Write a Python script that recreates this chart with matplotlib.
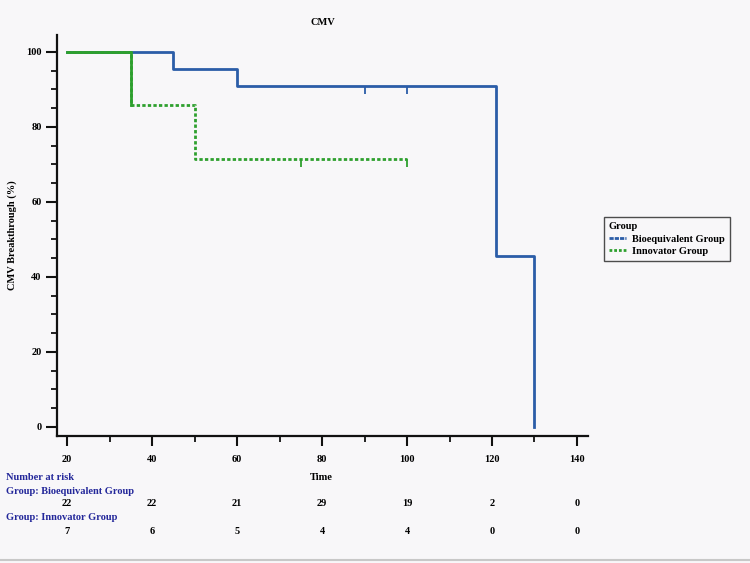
import numpy as np
import matplotlib
matplotlib.use("Agg")
import matplotlib.pyplot as plt
from matplotlib.lines import Line2D

# Kaplan-Meier style step data (time, % without CMV breakthrough)
bio_time = [20, 45, 60, 121, 130]
bio_surv = [100, 95.5, 91.0, 45.5, 0]
bio_cens_time = [90, 100]
bio_cens_surv = [91.0, 91.0]

inn_time = [20, 35, 50, 100]
inn_surv = [100, 85.7, 71.4, 71.4]
inn_cens_time = [75, 100]
inn_cens_surv = [71.4, 71.4]

risk_times = [20, 40, 60, 80, 100, 120, 140]
risk_bio = [22, 22, 21, 29, 19, 2, 0]
risk_inn = [7, 6, 5, 4, 4, 0, 0]

BLUE = "#2b5da8"
GREEN = "#2ea02e"
NAVY = "#23279a"
BG = "#f8f7f9"

plt.rcParams["font.family"] = ["Liberation Serif", "DejaVu Serif"]
plt.rcParams["font.weight"] = "bold"
plt.rcParams["font.size"] = 7.5

fig = plt.figure(figsize=(7.5, 5.63), dpi=100, facecolor=BG)
ax = fig.add_axes([0.076, 0.2256, 0.708, 0.7124], facecolor=BG)

# curves
ax.step(bio_time, bio_surv, where="post", color=BLUE, lw=2.0, zorder=3)
ax.plot(bio_cens_time, bio_cens_surv, ls="none", marker=3, ms=6, mew=1.3,
        color=BLUE, zorder=3)
ax.step(inn_time, inn_surv, where="post", color=GREEN, lw=2.0,
        ls=(0, (1.2, 0.8)), zorder=4)
ax.step(inn_time[:2], inn_surv[:2], where="post", color=GREEN, lw=2.0, zorder=5)
ax.plot(inn_cens_time, inn_cens_surv, ls="none", marker=3, ms=6, mew=1.3,
        color=GREEN, zorder=4)

ax.set_xlim(17.6, 142.6)
ax.set_ylim(-2.4, 104.5)

for s in ["top", "right"]:
    ax.spines[s].set_visible(False)
for s in ["left", "bottom"]:
    ax.spines[s].set_linewidth(1.6)
    ax.spines[s].set_color("#111111")

ax.set_xticks(risk_times)
ax.set_xticks(np.arange(30, 140, 20), minor=True)
ax.set_yticks([0, 20, 40, 60, 80, 100])
ax.set_yticks([y for y in range(5, 100, 5) if y % 20], minor=True)
ax.tick_params(axis="both", which="major", width=1.5, color="#111111",
               labelsize=7.5)
ax.tick_params(axis="x", which="major", length=7.5, pad=6.5)
ax.tick_params(axis="y", which="major", length=8, pad=3)
ax.tick_params(axis="both", which="minor", length=4.5, width=1.3, color="#111111")

ax.set_title("CMV", fontsize=7.5, fontweight="bold", pad=7)
ax.set_ylabel("CMV Breakthrough (%)", fontsize=7.5, fontweight="bold")
ax.yaxis.set_label_coords(-0.076, 0.5)

# legend
handles = [Line2D([], [], color=BLUE, lw=2.0, ls=(0, (1.5, 0.4))),
           Line2D([], [], color=GREEN, lw=2.0, ls=(0, (1.0, 0.7)))]
leg = fig.legend(handles, ["Bioequivalent Group", "Innovator Group"],
                 title="Group", loc="upper left", bbox_to_anchor=(0.798, 0.624),
                 frameon=True, fancybox=False, edgecolor="#222222",
                 facecolor=BG, handlelength=1.6, handletextpad=0.6,
                 borderpad=0.5, labelspacing=0.3, fontsize=7.5,
                 title_fontsize=7.5, alignment="left")
leg.get_frame().set_linewidth(1.0)
leg.get_title().set_fontweight("bold")

def fy(py):
    return 1 - py / 563

# time label
fig.text(0.429, fy(477), "Time", ha="center", va="center", fontsize=7.5)

# number at risk table
fig.text(0.008, fy(477), "Number at risk", color=NAVY, va="center", fontsize=7.5)
fig.text(0.008, fy(491), "Group: Bioequivalent Group", color=NAVY, va="center",
         fontsize=7.5)
fig.text(0.008, fy(518), "Group: Innovator Group", color=NAVY, va="center",
         fontsize=7.5)
trans = matplotlib.transforms.blended_transform_factory(ax.transData, fig.transFigure)
for t, nb, ni in zip(risk_times, risk_bio, risk_inn):
    ax.text(t, fy(504), str(nb), transform=trans, ha="center", va="center",
            fontsize=7.5, clip_on=False)
    ax.text(t, fy(532), str(ni), transform=trans, ha="center", va="center",
            fontsize=7.5, clip_on=False)

fig.add_artist(Line2D([0, 1], [fy(560), fy(560)], transform=fig.transFigure,
                      color="#c8c8c8", lw=1.5))

fig.savefig("out.png", dpi=100, facecolor=BG)
